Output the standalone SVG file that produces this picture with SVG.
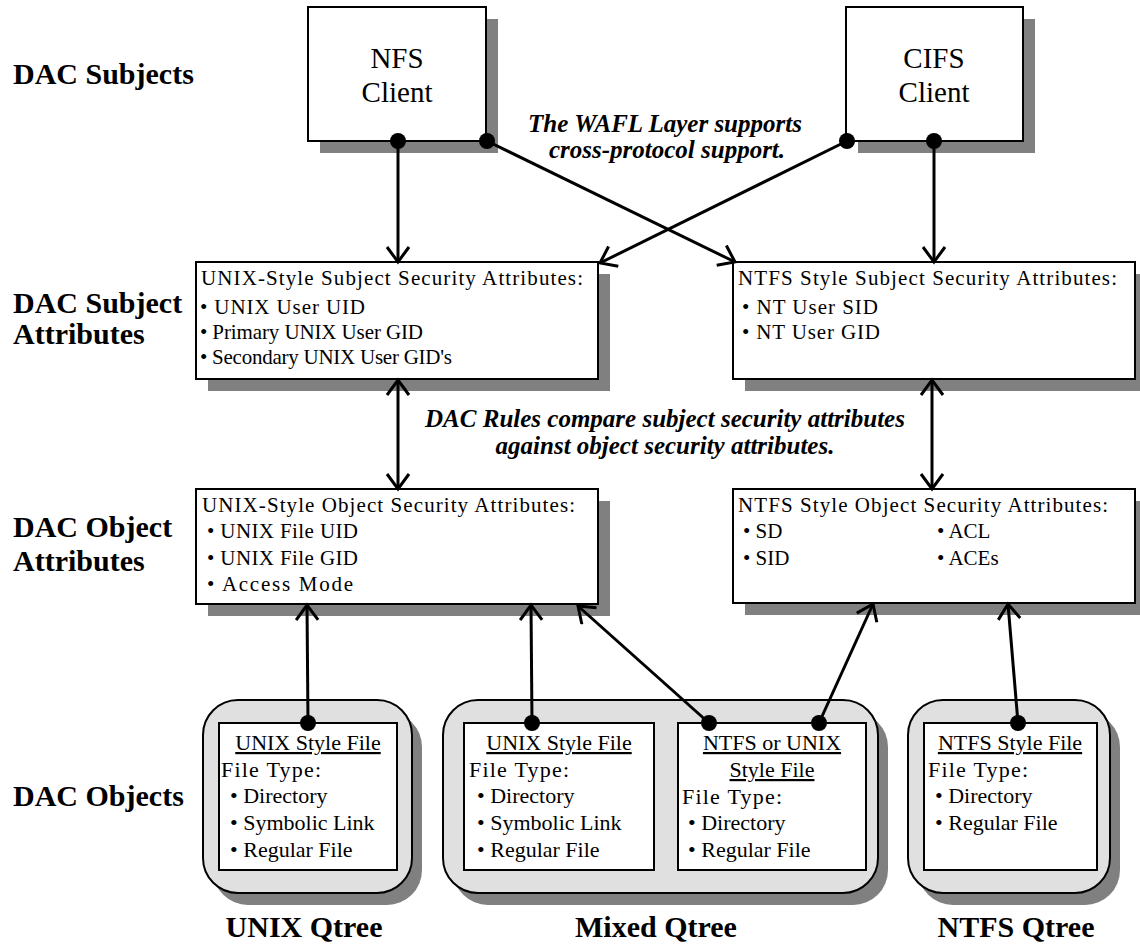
<svg xmlns="http://www.w3.org/2000/svg" width="1140" height="945" viewBox="0 0 1140 945">
<style>
.bg{fill:#fff}
.box{fill:#fff;stroke:#000;stroke-width:2}
.sh{fill:#808080}
.qt{fill:#e0e0e0;stroke:#000;stroke-width:2}
.t{font-family:"Liberation Serif","Times New Roman",serif;fill:#000}
.lab{font-size:30px;font-weight:bold}
.cl{font-size:29px;text-anchor:middle}
.hd{font-size:21px}
.bl{font-size:21px}
.fs{font-size:22px}
.u{text-decoration:underline}
.mid{text-anchor:middle}
.note{font-size:25px;font-weight:bold;font-style:italic;text-anchor:middle}
.ln{stroke:#000;stroke-width:3;fill:none}
.dot{fill:#000}
</style>
<defs>
<marker id="ah" markerUnits="userSpaceOnUse" markerWidth="24" markerHeight="28" refX="17" refY="12" orient="auto-start-reverse" viewBox="0 0 24 28">
<path d="M2,1 L17,12 L2,23" fill="none" stroke="#000" stroke-width="3"/>
</marker>
</defs>
<rect class="bg" x="0" y="0" width="1140" height="945"/>

<g id="labels">
<text class="t lab" x="13" y="84">DAC Subjects</text>
<text class="t lab" x="13" y="313">DAC Subject</text>
<text class="t lab" x="13" y="344">Attributes</text>
<text class="t lab" x="13" y="537">DAC Object</text>
<text class="t lab" x="13" y="571">Attributes</text>
<text class="t lab" x="13" y="806">DAC Objects</text>
<text class="t lab mid" x="304" y="937">UNIX Qtree</text>
<text class="t lab mid" x="656" y="937">Mixed Qtree</text>
<text class="t lab mid" x="1016" y="937">NTFS Qtree</text>
</g>

<g id="notes">
<text class="t note" x="665" y="132">The WAFL Layer supports</text>
<text class="t note" x="667" y="158">cross-protocol support.</text>
<text class="t note" x="665" y="427">DAC Rules compare subject security attributes</text>
<text class="t note" x="665" y="454">against object security attributes.</text>
</g>

<g id="nfs-client">
<rect class="sh" x="320" y="19" width="178" height="134"/>
<rect class="box" x="308" y="7" width="178" height="134"/>
<text class="t cl" x="397" y="68">NFS</text>
<text class="t cl" x="397" y="102">Client</text>
</g>

<g id="cifs-client">
<rect class="sh" x="858" y="19" width="177" height="134"/>
<rect class="box" x="846" y="7" width="177" height="134"/>
<text class="t cl" x="934" y="68">CIFS</text>
<text class="t cl" x="934" y="102">Client</text>
</g>

<g id="unix-subject-attrs">
<rect class="sh" x="208" y="274" width="402" height="117"/>
<rect class="box" x="196" y="262" width="402" height="117"/>
<text class="t hd" x="201" y="285" textLength="382" lengthAdjust="spacing">UNIX-Style Subject Security Attributes:</text>
<text class="t bl" x="200" y="314" textLength="165" lengthAdjust="spacing">• UNIX User UID</text>
<text class="t bl" x="200" y="339" font-size="20" textLength="223" lengthAdjust="spacing">• Primary UNIX User GID</text>
<text class="t bl" x="200" y="364" font-size="20" textLength="252" lengthAdjust="spacing">• Secondary UNIX User GID's</text>
</g>

<g id="ntfs-subject-attrs">
<rect class="sh" x="745" y="274" width="402" height="117"/>
<rect class="box" x="733" y="262" width="402" height="117"/>
<text class="t hd" x="738" y="285" textLength="379" lengthAdjust="spacing">NTFS Style Subject Security Attributes:</text>
<text class="t bl" x="742" y="314" textLength="136" lengthAdjust="spacing">• NT User SID</text>
<text class="t bl" x="742" y="339" textLength="138" lengthAdjust="spacing">• NT User GID</text>
</g>

<g id="unix-object-attrs">
<rect class="sh" x="208" y="501" width="402" height="115"/>
<rect class="box" x="196" y="489" width="402" height="115"/>
<text class="t hd" x="202" y="512" textLength="373" lengthAdjust="spacing">UNIX-Style Object Security Attributes:</text>
<text class="t bl" x="207" y="538" textLength="151" lengthAdjust="spacing">• UNIX File UID</text>
<text class="t bl" x="207" y="565" textLength="151" lengthAdjust="spacing">• UNIX File GID</text>
<text class="t bl" x="207" y="591" textLength="146" lengthAdjust="spacing">• Access Mode</text>
</g>

<g id="ntfs-object-attrs">
<rect class="sh" x="745" y="501" width="402" height="114"/>
<rect class="box" x="733" y="489" width="402" height="114"/>
<text class="t hd" x="738" y="512" textLength="370" lengthAdjust="spacing">NTFS Style Object Security Attributes:</text>
<text class="t bl" x="743" y="538">• SD</text>
<text class="t bl" x="937" y="538">• ACL</text>
<text class="t bl" x="743" y="565">• SID</text>
<text class="t bl" x="937" y="565">• ACEs</text>
</g>

<g id="unix-qtree">
<rect class="sh" x="213" y="712" width="209" height="193" rx="35"/>
<rect class="qt" x="203" y="700" width="209" height="193" rx="35"/>
<g id="unix-qtree-file">
<rect class="box" x="219" y="723" width="178" height="147"/>
<text class="t fs u mid" x="308" y="750">UNIX Style File</text>
<text class="t fs" x="221" y="777" textLength="100" lengthAdjust="spacing">File Type:</text>
<text class="t fs" x="230" y="803">• Directory</text>
<text class="t fs" x="230" y="830">• Symbolic Link</text>
<text class="t fs" x="230" y="857">• Regular File</text>
</g>
</g>

<g id="mixed-qtree">
<rect class="sh" x="453" y="712" width="435" height="193" rx="35"/>
<rect class="qt" x="443" y="700" width="435" height="193" rx="35"/>
<g id="mixed-unix-file">
<rect class="box" x="464" y="723" width="190" height="147"/>
<text class="t fs u mid" x="559" y="750">UNIX Style File</text>
<text class="t fs" x="469" y="777" textLength="100" lengthAdjust="spacing">File Type:</text>
<text class="t fs" x="477" y="803">• Directory</text>
<text class="t fs" x="477" y="830">• Symbolic Link</text>
<text class="t fs" x="477" y="857">• Regular File</text>
</g>
<g id="mixed-ntfs-unix-file">
<rect class="box" x="678" y="723" width="188" height="147"/>
<text class="t fs u mid" x="772" y="750">NTFS or UNIX</text>
<text class="t fs u mid" x="772" y="777">Style File</text>
<text class="t fs" x="682" y="804" textLength="100" lengthAdjust="spacing">File Type:</text>
<text class="t fs" x="688" y="830">• Directory</text>
<text class="t fs" x="688" y="857">• Regular File</text>
</g>
</g>

<g id="ntfs-qtree">
<rect class="sh" x="918" y="712" width="202" height="193" rx="35"/>
<rect class="qt" x="908" y="700" width="202" height="193" rx="35"/>
<g id="ntfs-qtree-file">
<rect class="box" x="924" y="723" width="173" height="147"/>
<text class="t fs u mid" x="1010" y="750">NTFS Style File</text>
<text class="t fs" x="928" y="777" textLength="100" lengthAdjust="spacing">File Type:</text>
<text class="t fs" x="935" y="803">• Directory</text>
<text class="t fs" x="935" y="830">• Regular File</text>
</g>
</g>

<g id="connectors">
<line class="ln" x1="398" y1="141" x2="398" y2="262" marker-end="url(#ah)"/>
<line class="ln" x1="487" y1="141" x2="735" y2="262" marker-end="url(#ah)"/>
<line class="ln" x1="847" y1="141" x2="600" y2="263" marker-end="url(#ah)"/>
<line class="ln" x1="934" y1="141" x2="934" y2="262" marker-end="url(#ah)"/>
<line class="ln" x1="398" y1="380" x2="398" y2="489" marker-start="url(#ah)" marker-end="url(#ah)"/>
<line class="ln" x1="932" y1="380" x2="932" y2="489" marker-start="url(#ah)" marker-end="url(#ah)"/>
<line class="ln" x1="308" y1="723" x2="307" y2="605" marker-end="url(#ah)"/>
<line class="ln" x1="532" y1="723" x2="531" y2="605" marker-end="url(#ah)"/>
<line class="ln" x1="709" y1="723" x2="578" y2="606" marker-end="url(#ah)"/>
<line class="ln" x1="819" y1="723" x2="873" y2="604" marker-end="url(#ah)"/>
<line class="ln" x1="1018" y1="723" x2="1008" y2="604" marker-end="url(#ah)"/>
<circle class="dot" cx="398" cy="141" r="8"/>
<circle class="dot" cx="487" cy="141" r="8"/>
<circle class="dot" cx="847" cy="141" r="8"/>
<circle class="dot" cx="934" cy="141" r="8"/>
<circle class="dot" cx="308" cy="723" r="8"/>
<circle class="dot" cx="532" cy="723" r="8"/>
<circle class="dot" cx="709" cy="723" r="8"/>
<circle class="dot" cx="819" cy="723" r="8"/>
<circle class="dot" cx="1018" cy="723" r="8"/>
</g>
</svg>
